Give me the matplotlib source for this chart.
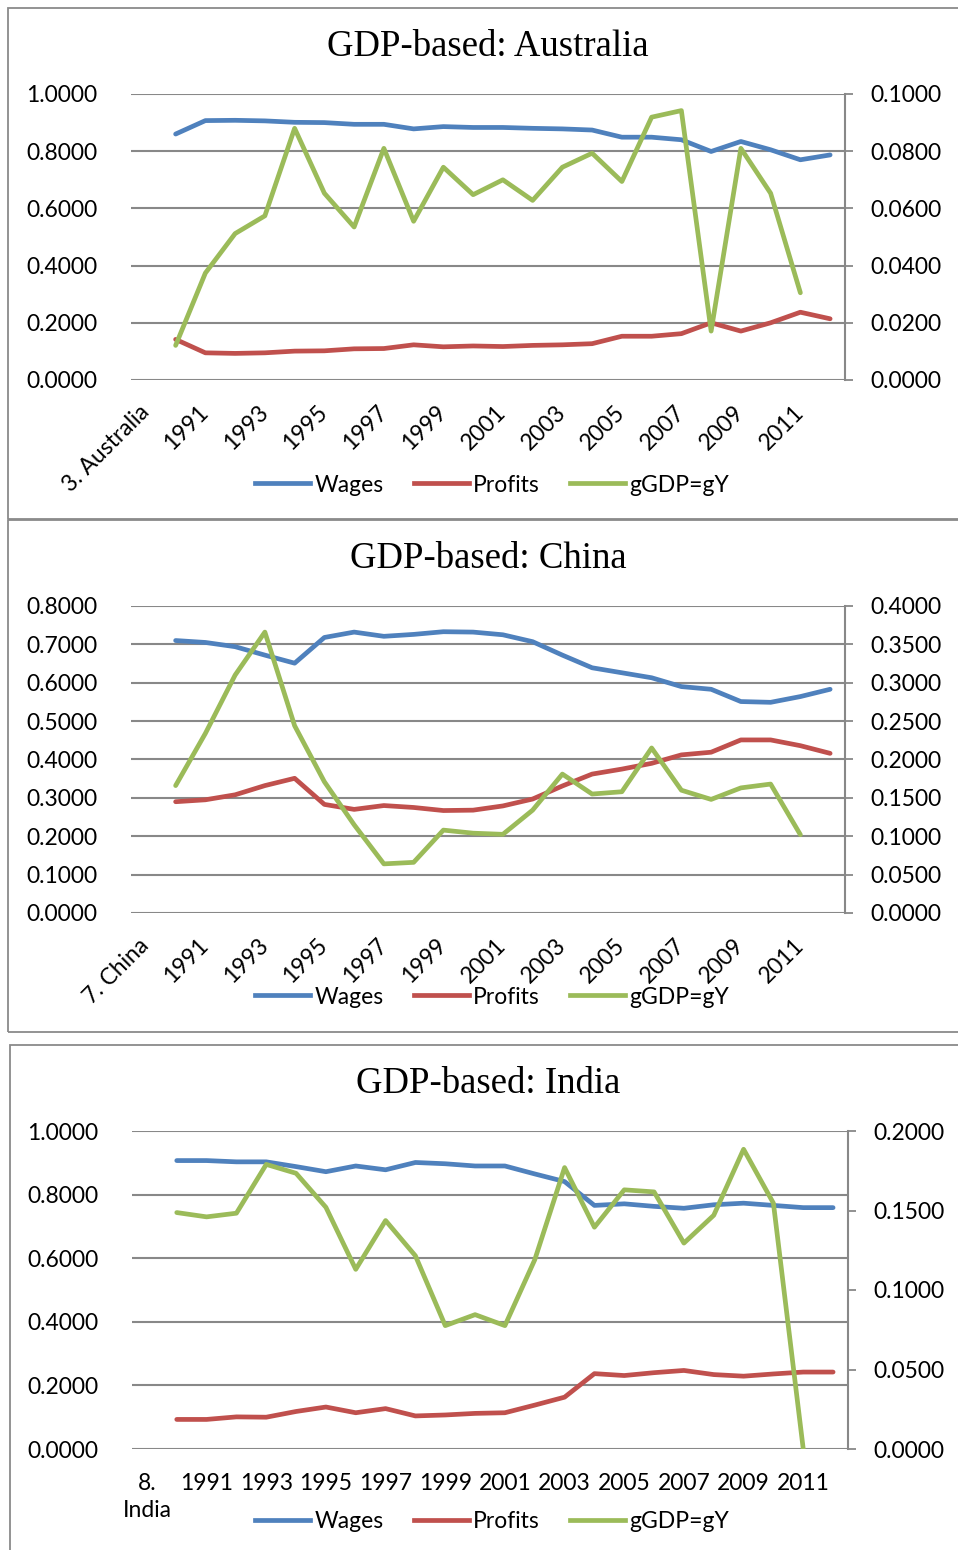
import numpy as np
import matplotlib
matplotlib.use("Agg")
import matplotlib.pyplot as plt
from matplotlib.patches import Rectangle
from matplotlib.lines import Line2D

# categories: first slot holds the country label, then 1990..2012
years = [1990, 1991, 1992, 1993, 1994, 1995, 1996, 1997, 1998, 1999, 2000, 2001,
         2002, 2003, 2004, 2005, 2006, 2007, 2008, 2009, 2010, 2011, 2012]

aus_wages = [0.860, 0.907, 0.908, 0.906, 0.901, 0.900, 0.894, 0.894, 0.878, 0.886, 0.883, 0.883,
             0.880, 0.878, 0.874, 0.849, 0.849, 0.840, 0.799, 0.834, 0.805, 0.770, 0.787]
aus_profits = [0.142, 0.095, 0.093, 0.095, 0.101, 0.102, 0.109, 0.110, 0.123, 0.116, 0.119, 0.117,
               0.121, 0.123, 0.127, 0.153, 0.153, 0.162, 0.200, 0.171, 0.200, 0.237, 0.214]
aus_g = [0.0121, 0.0374, 0.0512, 0.0574, 0.0880, 0.0653, 0.0535, 0.0810, 0.0555, 0.0744, 0.0648,
         0.0700, 0.0628, 0.0744, 0.0793, 0.0694, 0.0919, 0.0942, 0.0171, 0.0810, 0.0653, 0.0305]

chn_wages = [0.710, 0.705, 0.694, 0.672, 0.651, 0.718, 0.732, 0.721, 0.726, 0.733, 0.732, 0.725,
             0.707, 0.672, 0.639, 0.626, 0.613, 0.590, 0.583, 0.551, 0.549, 0.564, 0.583]
chn_profits = [0.290, 0.295, 0.308, 0.332, 0.351, 0.283, 0.270, 0.280, 0.275, 0.267, 0.268, 0.279,
               0.297, 0.331, 0.362, 0.375, 0.390, 0.412, 0.419, 0.451, 0.451, 0.436, 0.416]
chn_g = [0.166, 0.234, 0.310, 0.366, 0.244, 0.171, 0.115, 0.064, 0.066, 0.108, 0.104,
         0.1025, 0.134, 0.181, 0.155, 0.158, 0.215, 0.160, 0.148, 0.163, 0.168, 0.102]

ind_wages = [0.907, 0.907, 0.903, 0.903, 0.888, 0.872, 0.890, 0.878, 0.901, 0.897, 0.890, 0.890,
             0.865, 0.841, 0.766, 0.771, 0.763, 0.757, 0.768, 0.773, 0.766, 0.759, 0.759]
ind_profits = [0.093, 0.093, 0.101, 0.100, 0.118, 0.132, 0.114, 0.127, 0.104, 0.107, 0.112, 0.114,
               0.138, 0.163, 0.237, 0.231, 0.240, 0.247, 0.234, 0.229, 0.236, 0.242, 0.242]
ind_g = [0.1487, 0.146, 0.1483, 0.179, 0.1734, 0.152, 0.113, 0.1437, 0.1215, 0.0776, 0.0845,
         0.0776, 0.119, 0.177, 0.1395, 0.163, 0.1617, 0.1295, 0.147, 0.1885, 0.1546, 0.0]

panels = [
    dict(title="GDP-based: Australia", first="3. Australia", wages=aus_wages, profits=aus_profits,
         g=aus_g, lmax=1.0, lstep=0.2, rmax=0.1, rstep=0.02, rot=True,
         box=(8, 8, 962, 519), plot=(131, 94, 845, 380), ty=47, ly=485),
    dict(title="GDP-based: China", first="7. China", wages=chn_wages, profits=chn_profits,
         g=chn_g, lmax=0.8, lstep=0.1, rmax=0.4, rstep=0.05, rot=True,
         box=(8, 520, 962, 1032), plot=(131, 606, 845, 913), ty=559, ly=997),
    dict(title="GDP-based: India", first="8.\nIndia", wages=ind_wages, profits=ind_profits,
         g=ind_g, lmax=1.0, lstep=0.2, rmax=0.2, rstep=0.05, rot=False,
         box=(10, 1045, 962, 1556), plot=(132, 1131, 848, 1449), ty=1084, ly=1522),
]

W, H = 958, 1550
BLUE, RED, GREEN = "#4F81BD", "#C0504D", "#9BBB59"
GRID = "#888888"
SANS = ["Lato", "DejaVu Sans"]
LW = 3.4

fig = plt.figure(figsize=(W / 100, H / 100), dpi=100)
fig.patch.set_facecolor("white")

xpos = np.arange(1, len(years) + 1)

for p in panels:
    x0, y0, x1, y1 = p["box"]
    fig.patches.append(Rectangle((x0 / W, 1 - y1 / H), (x1 - x0) / W, (y1 - y0) / H,
                                 transform=fig.transFigure, fill=False,
                                 edgecolor="#8A8A8A", lw=1.3))
    a0, b0, a1, b1 = p["plot"]
    ax = fig.add_axes([a0 / W, 1 - b1 / H, (a1 - a0) / W, (b1 - b0) / H])
    ax2 = ax.twinx()

    ax.plot(xpos, p["wages"], color=BLUE, lw=LW, solid_capstyle="round", solid_joinstyle="round")
    ax.plot(xpos, p["profits"], color=RED, lw=LW, solid_capstyle="round", solid_joinstyle="round")
    ax2.plot(xpos[:len(p["g"])], p["g"], color=GREEN, lw=LW,
             solid_capstyle="round", solid_joinstyle="round")

    ax.set_xlim(-0.5, len(years) + 0.5)
    ax.set_ylim(0, p["lmax"])
    ax2.set_ylim(0, p["rmax"])
    ax.set_yticks(np.arange(0, p["lmax"] + 1e-9, p["lstep"]))
    ax2.set_yticks(np.arange(0, p["rmax"] + 1e-9, p["rstep"]))
    ax.yaxis.set_major_formatter(matplotlib.ticker.FormatStrFormatter("%.4f"))
    ax2.yaxis.set_major_formatter(matplotlib.ticker.FormatStrFormatter("%.4f"))

    ax.grid(axis="y", color=GRID, lw=1.5)
    ax.set_axisbelow(True)
    for s in ax.spines.values():
        s.set_visible(False)
    for k, s in ax2.spines.items():
        s.set_visible(k == "right")
    ax2.spines["right"].set_color(GRID)
    ax2.spines["right"].set_linewidth(1.5)

    ax.tick_params(axis="y", length=0, pad=24, labelsize=16.5)
    ax2.tick_params(axis="y", length=6, width=1.3, color=GRID, pad=12, labelsize=16.5)
    for t in ax.get_yticklabels() + ax2.get_yticklabels():
        t.set_fontfamily(SANS)

    ticks = list(range(0, len(years) + 1, 2))
    labels = [p["first"]] + [str(years[i - 1]) for i in ticks[1:]]
    ax.set_xticks(ticks)
    if p["rot"]:
        ax.set_xticklabels(labels, rotation=45, ha="right", va="center",
                           rotation_mode="anchor", family=SANS, fontsize=16.5)
        ax.tick_params(axis="x", length=0, pad=21)
    else:
        ax.set_xticklabels(labels, family=SANS, fontsize=16.5, linespacing=1.4)
        ax.tick_params(axis="x", length=0, pad=17)

    fig.text(488 / W, 1 - p["ty"] / H, p["title"], ha="center", va="center",
             family="Liberation Serif", fontsize=26.5)

    handles = [Line2D([], [], color=c, lw=LW) for c in (BLUE, RED, GREEN)]
    fig.legend(handles, ["Wages", "Profits", "gGDP=gY"], loc="center",
               bbox_to_anchor=(492 / W, 1 - p["ly"] / H), ncol=3, frameon=False,
               prop=dict(family=SANS, size=16.5), handlelength=2.4,
               handletextpad=0.2, columnspacing=1.3, borderpad=0)

fig.savefig("out.png", dpi=100, facecolor="white")
